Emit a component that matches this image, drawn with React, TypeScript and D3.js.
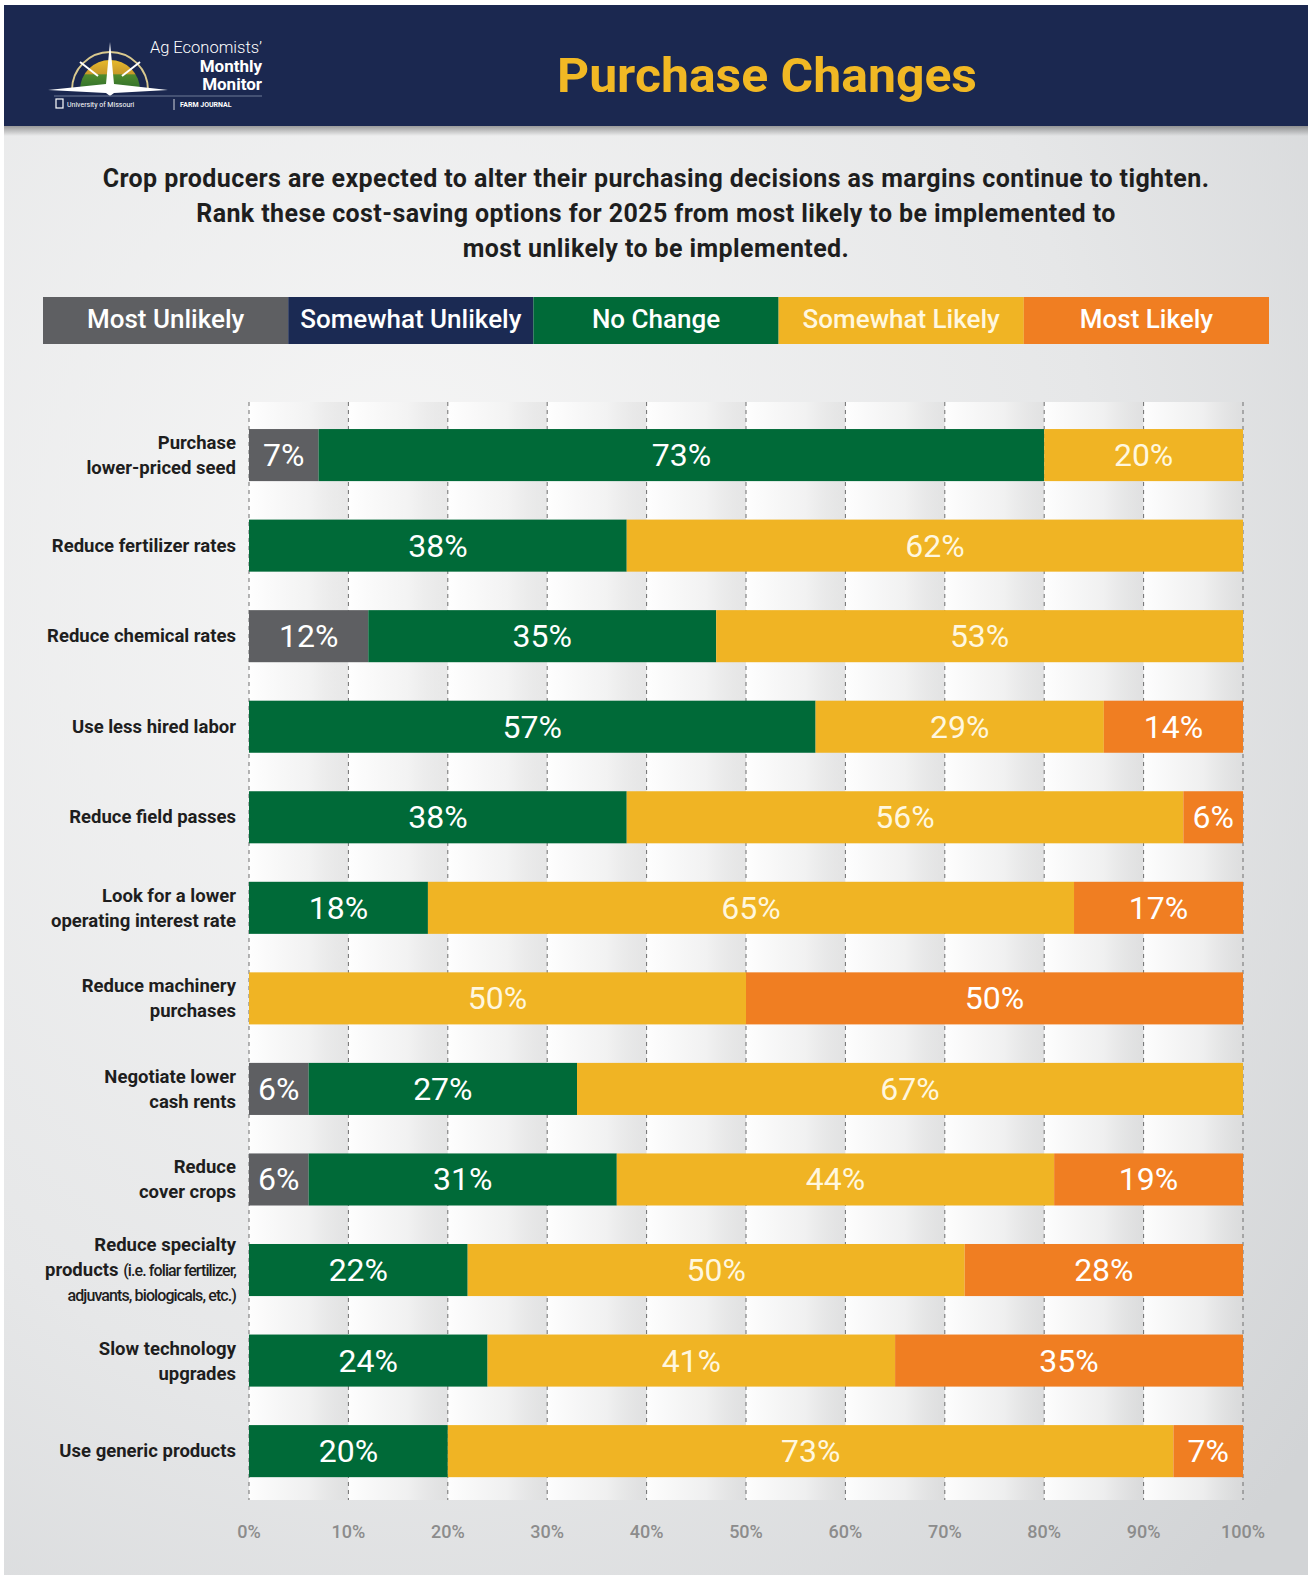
import React from "react";
import * as d3 from "d3";

const categories = [
  "Purchase lower-priced seed",
  "Reduce fertilizer rates",
  "Reduce chemical rates",
  "Use less hired labor",
  "Reduce field passes",
  "Look for a lower operating interest rate",
  "Reduce machinery purchases",
  "Negotiate lower cash rents",
  "Reduce cover crops",
  "Reduce specialty products",
  "Slow technology upgrades",
  "Use generic products",
];

const seriesNames = ["Most Unlikely", "Somewhat Unlikely", "No Change", "Somewhat Likely", "Most Likely"];

const mostUnlikely = [7, 0, 12, 0, 0, 0, 0, 6, 6, 0, 0, 0];
const somewhatUnlikely = [0, 0, 0, 0, 0, 0, 0, 0, 0, 0, 0, 0];
const noChange = [73, 38, 35, 57, 38, 18, 0, 27, 31, 22, 24, 20];
const somewhatLikely = [20, 62, 53, 29, 56, 65, 50, 67, 44, 50, 41, 73];
const mostLikely = [0, 0, 0, 14, 6, 17, 50, 0, 19, 28, 35, 7];

const xTicks = [0, 10, 20, 30, 40, 50, 60, 70, 80, 90, 100];

const colors = ["#5e5f62", "#1b2a53", "#006a38", "#f0b424", "#f07e22"];
const labelColors = ["#ffffff", "#ffffff", "#ffffff", "#fff7df", "#ffffff"];

const W = 1312;
const H = 1575;
const SANS = "Roboto, 'Noto Sans', 'DejaVu Sans', sans-serif";

function CatLabel({ name, x, y }: { name: string; x: number; y: number }) {
  const style = { fontFamily: SANS, fontWeight: 700, fontSize: 18.5, fill: "#1e1e1e" } as const;
  const lh = 25;
  if (name === "Reduce specialty products") {
    return (
      <text x={x} y={y} textAnchor="end" {...style}>
        <tspan x={x} dy={-lh + 6}>Reduce specialty</tspan>
        <tspan x={x} dy={lh}>
          products <tspan fontWeight={500} fontSize={16} letterSpacing={-0.9}>(i.e. foliar fertilizer,</tspan>
        </tspan>
        <tspan x={x} dy={lh} fontWeight={500} fontSize={16} letterSpacing={-0.9}>adjuvants, biologicals, etc.)</tspan>
      </text>
    );
  }
  const twoLine: Record<string, [string, string]> = {
    "Purchase lower-priced seed": ["Purchase", "lower-priced seed"],
    "Look for a lower operating interest rate": ["Look for a lower", "operating interest rate"],
    "Reduce machinery purchases": ["Reduce machinery", "purchases"],
    "Negotiate lower cash rents": ["Negotiate lower", "cash rents"],
    "Reduce cover crops": ["Reduce", "cover crops"],
    "Slow technology upgrades": ["Slow technology", "upgrades"],
  };
  const lines = twoLine[name];
  if (lines) {
    return (
      <text x={x} y={y} textAnchor="end" {...style}>
        <tspan x={x} dy={-6}>{lines[0]}</tspan>
        <tspan x={x} dy={lh}>{lines[1]}</tspan>
      </text>
    );
  }
  return (
    <text x={x} y={y + 6} textAnchor="end" {...style}>
      {name}
    </text>
  );
}

export default function App() {
  const x = d3.scaleLinear().domain([0, 100]).range([249, 1243]);
  const y = d3
    .scaleBand<string>()
    .domain(categories)
    .range([409.8, 1496.4])
    .paddingInner(0.425)
    .paddingOuter(0.2125);

  const table = categories.map((c, i) => ({
    cat: c,
    "Most Unlikely": mostUnlikely[i],
    "Somewhat Unlikely": somewhatUnlikely[i],
    "No Change": noChange[i],
    "Somewhat Likely": somewhatLikely[i],
    "Most Likely": mostLikely[i],
  }));
  const stack = d3.stack<any>().keys(seriesNames)(table);

  const legendX = d3.scaleBand<string>().domain(seriesNames).range([43, 1269]);

  const plotTop = 402;
  const plotBottom = 1500;

  return (
    <svg width={W} height={H} style={{ position: "absolute", left: 0, top: 0, display: "block" }}>
      <defs>
        <radialGradient id="bg" cx="0.3" cy="0.35" r="0.9">
          <stop offset="0" stopColor="#f6f6f6" />
          <stop offset="0.6" stopColor="#e6e7e8" />
          <stop offset="1" stopColor="#d2d4d6" />
        </radialGradient>
        <linearGradient id="col" x1="0" x2="1" y1="0" y2="0">
          <stop offset="0" stopColor="#ffffff" stopOpacity={0.95} />
          <stop offset="0.6" stopColor="#f3f3f3" stopOpacity={0.8} />
          <stop offset="1" stopColor="#dcdcdc" stopOpacity={0.5} />
        </linearGradient>
        <linearGradient id="shadow" x1="0" x2="0" y1="0" y2="1">
          <stop offset="0" stopColor="#000" stopOpacity={0.35} />
          <stop offset="1" stopColor="#000" stopOpacity={0} />
        </linearGradient>
        <linearGradient id="field" x1="0" x2="0" y1="0" y2="1">
          <stop offset="0" stopColor="#e7b92e" />
          <stop offset="0.45" stopColor="#c99a2a" />
          <stop offset="0.5" stopColor="#4f8a2e" />
          <stop offset="1" stopColor="#2f6e2a" />
        </linearGradient>
      </defs>
      <rect x={0} y={0} width={W} height={H} fill="#ffffff" />
      <rect x={4} y={5} width={1304} height={H - 5} fill="url(#bg)" />

      {/* Header */}
      <rect x={4} y={126} width={1304} height={10} fill="url(#shadow)" />
      <rect x={4} y={5} width={1304} height={121} fill="#1b2850" />
      <text
        x={767}
        y={92}
        textAnchor="middle"
        fontFamily={SANS}
        fontWeight={700}
        fontSize={49}
        fill="#f1b824"
        textLength={420}
        lengthAdjust="spacingAndGlyphs"
      >
        Purchase Changes
      </text>

      {/* Logo */}
      <g>
        <path d="M72,90 A38,38 0 0 1 148,90" fill="none" stroke="#d9c98f" strokeWidth={2} />
        <path d="M80,90 A30,30 0 0 1 140,90 Z" fill="url(#field)" />
        <path d="M110,42 L114,84 L168,90 L114,93 L110,96 L106,93 L48,90 L106,84 Z" fill="#ffffff" />
        <line x1={80} y1={62} x2={98} y2={76} stroke="#ffffff" strokeWidth={2} />
        <line x1={140} y1={62} x2={122} y2={76} stroke="#ffffff" strokeWidth={2} />
        <text x={262} y={53} textAnchor="end" fontFamily={SANS} fontWeight={300} fontSize={16.5} fill="#ffffff">Ag Economists’</text>
        <text x={262} y={72} textAnchor="end" fontFamily={SANS} fontWeight={700} fontSize={17} fill="#ffffff">Monthly</text>
        <text x={262} y={90} textAnchor="end" fontFamily={SANS} fontWeight={700} fontSize={17} fill="#ffffff">Monitor</text>
        <line x1={54} y1={96} x2={262} y2={96} stroke="#6f7a96" strokeWidth={1} />
        <rect x={56} y={99} width={7} height={9} fill="none" stroke="#ffffff" strokeWidth={1.2} />
        <text x={67} y={107} fontFamily={SANS} fontSize={7} fill="#ffffff">University of Missouri</text>
        <line x1={174} y1={99} x2={174} y2={110} stroke="#ffffff" strokeWidth={0.8} />
        <text x={180} y={107} fontFamily={SANS} fontWeight={700} fontSize={7} fill="#ffffff">FARM JOURNAL</text>
      </g>

      {/* Subtitle */}
      <g fontFamily={SANS} fontWeight={700} fontSize={25} fill="#1e1e1e" textAnchor="middle" letterSpacing={0.4}>
        <text x={656} y={187}>Crop producers are expected to alter their purchasing decisions as margins continue to tighten.</text>
        <text x={656} y={222}>Rank these cost-saving options for 2025 from most likely to be implemented to</text>
        <text x={656} y={257}>most unlikely to be implemented.</text>
      </g>

      {/* Legend */}
      <g>
        {seriesNames.map((s, i) => (
          <g key={s}>
            <rect x={legendX(s)!} y={297} width={legendX.bandwidth()} height={47} fill={colors[i]} />
            <text
              x={legendX(s)! + legendX.bandwidth() / 2}
              y={328}
              textAnchor="middle"
              fontFamily={SANS}
              fontWeight={500}
              fontSize={26}
              fill={labelColors[i]}
            >
              {s}
            </text>
          </g>
        ))}
      </g>

      {/* Plot background columns */}
      {xTicks.slice(0, -1).map((t, i) => (
        <rect
          key={"c" + t}
          x={x(t)}
          y={plotTop}
          width={x(xTicks[i + 1]) - x(t)}
          height={plotBottom - plotTop}
          fill="url(#col)"
        />
      ))}
      {/* Gridlines */}
      {xTicks.map((t) => (
        <line
          key={"g" + t}
          x1={x(t)}
          x2={x(t)}
          y1={plotTop}
          y2={plotBottom}
          stroke="#6f6f6f"
          strokeWidth={1}
          strokeDasharray="4,4"
        />
      ))}

      {/* Bars */}
      {stack.map((layer, si) => (
        <g key={layer.key}>
          {layer.map((d, i) => {
            const w = x(d[1]) - x(d[0]);
            if (w <= 0) return null;
            return (
              <rect
                key={i}
                x={x(d[0])}
                y={y(categories[i])!}
                width={w}
                height={y.bandwidth()}
                fill={colors[si]}
              />
            );
          })}
        </g>
      ))}
      {/* Value labels */}
      {stack.map((layer, si) => (
        <g key={"l" + layer.key}>
          {layer.map((d, i) => {
            const v = d[1] - d[0];
            if (v <= 0) return null;
            return (
              <text
                key={i}
                x={(x(d[0]) + x(d[1])) / 2}
                y={y(categories[i])! + y.bandwidth() / 2 + 11}
                textAnchor="middle"
                fontFamily={SANS}
                fontWeight={400}
                fontSize={32}
                fill={labelColors[si]}
              >
                {v}%
              </text>
            );
          })}
        </g>
      ))}

      {/* Category labels */}
      {categories.map((c) => (
        <CatLabel key={c} name={c} x={236} y={y(c)! + y.bandwidth() / 2} />
      ))}

      {/* X tick labels */}
      {xTicks.map((t) => (
        <text
          key={"t" + t}
          x={x(t)}
          y={1538}
          textAnchor="middle"
          fontFamily={SANS}
          fontWeight={500}
          fontSize={18}
          fill="#8c8c8c"
        >
          {t}%
        </text>
      ))}
    </svg>
  );
}
